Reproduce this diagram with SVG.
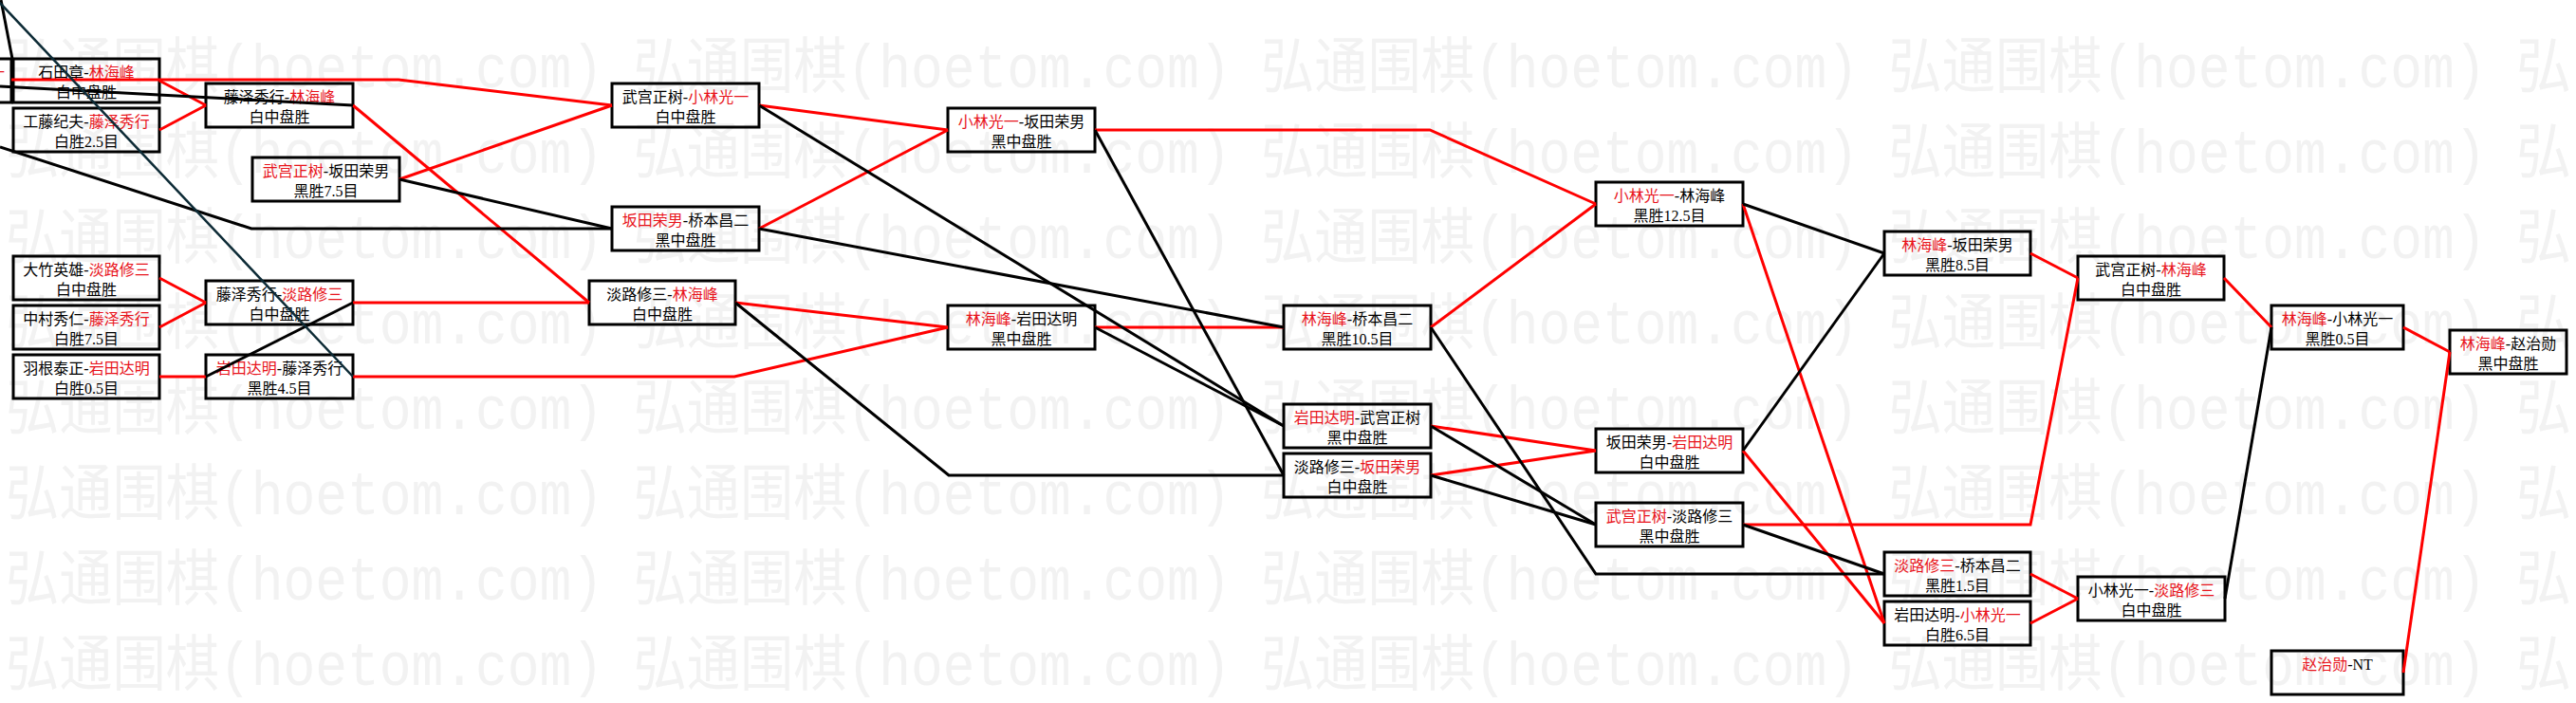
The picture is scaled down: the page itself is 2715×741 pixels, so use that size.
<svg xmlns="http://www.w3.org/2000/svg" width="2715" height="741" viewBox="0 0 2715 741">
<style>
.wm{font-family:"Liberation Mono","Noto Sans CJK SC",monospace;font-size:64px;fill:#f2f2f2}
.box{fill:none;stroke:#000;stroke-width:3}
.t{font-family:"Liberation Serif","Noto Sans CJK SC",serif;font-size:16px;fill:#000;text-anchor:middle}
.r{fill:#e8141c}
.cr{fill:none;stroke:#f00;stroke-width:3}
.cb{fill:none;stroke:#000;stroke-width:3}
.ct{fill:none;stroke:#0d2b36;stroke-width:2.5}
</style>
<rect width="2715" height="741" fill="#fff"/>
<g id="watermark">
<text class="wm" x="6" y="92" textLength="630" lengthAdjust="spacingAndGlyphs">弘通围棋(hoetom.com)</text><text class="wm" x="667.5" y="92" textLength="630" lengthAdjust="spacingAndGlyphs">弘通围棋(hoetom.com)</text><text class="wm" x="1329" y="92" textLength="630" lengthAdjust="spacingAndGlyphs">弘通围棋(hoetom.com)</text><text class="wm" x="1990.5" y="92" textLength="630" lengthAdjust="spacingAndGlyphs">弘通围棋(hoetom.com)</text><text class="wm" x="2652" y="92" textLength="58" lengthAdjust="spacingAndGlyphs">弘</text>
<text class="wm" x="6" y="182" textLength="630" lengthAdjust="spacingAndGlyphs">弘通围棋(hoetom.com)</text><text class="wm" x="667.5" y="182" textLength="630" lengthAdjust="spacingAndGlyphs">弘通围棋(hoetom.com)</text><text class="wm" x="1329" y="182" textLength="630" lengthAdjust="spacingAndGlyphs">弘通围棋(hoetom.com)</text><text class="wm" x="1990.5" y="182" textLength="630" lengthAdjust="spacingAndGlyphs">弘通围棋(hoetom.com)</text><text class="wm" x="2652" y="182" textLength="58" lengthAdjust="spacingAndGlyphs">弘</text>
<text class="wm" x="6" y="272" textLength="630" lengthAdjust="spacingAndGlyphs">弘通围棋(hoetom.com)</text><text class="wm" x="667.5" y="272" textLength="630" lengthAdjust="spacingAndGlyphs">弘通围棋(hoetom.com)</text><text class="wm" x="1329" y="272" textLength="630" lengthAdjust="spacingAndGlyphs">弘通围棋(hoetom.com)</text><text class="wm" x="1990.5" y="272" textLength="630" lengthAdjust="spacingAndGlyphs">弘通围棋(hoetom.com)</text><text class="wm" x="2652" y="272" textLength="58" lengthAdjust="spacingAndGlyphs">弘</text>
<text class="wm" x="6" y="362" textLength="630" lengthAdjust="spacingAndGlyphs">弘通围棋(hoetom.com)</text><text class="wm" x="667.5" y="362" textLength="630" lengthAdjust="spacingAndGlyphs">弘通围棋(hoetom.com)</text><text class="wm" x="1329" y="362" textLength="630" lengthAdjust="spacingAndGlyphs">弘通围棋(hoetom.com)</text><text class="wm" x="1990.5" y="362" textLength="630" lengthAdjust="spacingAndGlyphs">弘通围棋(hoetom.com)</text><text class="wm" x="2652" y="362" textLength="58" lengthAdjust="spacingAndGlyphs">弘</text>
<text class="wm" x="6" y="452" textLength="630" lengthAdjust="spacingAndGlyphs">弘通围棋(hoetom.com)</text><text class="wm" x="667.5" y="452" textLength="630" lengthAdjust="spacingAndGlyphs">弘通围棋(hoetom.com)</text><text class="wm" x="1329" y="452" textLength="630" lengthAdjust="spacingAndGlyphs">弘通围棋(hoetom.com)</text><text class="wm" x="1990.5" y="452" textLength="630" lengthAdjust="spacingAndGlyphs">弘通围棋(hoetom.com)</text><text class="wm" x="2652" y="452" textLength="58" lengthAdjust="spacingAndGlyphs">弘</text>
<text class="wm" x="6" y="542" textLength="630" lengthAdjust="spacingAndGlyphs">弘通围棋(hoetom.com)</text><text class="wm" x="667.5" y="542" textLength="630" lengthAdjust="spacingAndGlyphs">弘通围棋(hoetom.com)</text><text class="wm" x="1329" y="542" textLength="630" lengthAdjust="spacingAndGlyphs">弘通围棋(hoetom.com)</text><text class="wm" x="1990.5" y="542" textLength="630" lengthAdjust="spacingAndGlyphs">弘通围棋(hoetom.com)</text><text class="wm" x="2652" y="542" textLength="58" lengthAdjust="spacingAndGlyphs">弘</text>
<text class="wm" x="6" y="632" textLength="630" lengthAdjust="spacingAndGlyphs">弘通围棋(hoetom.com)</text><text class="wm" x="667.5" y="632" textLength="630" lengthAdjust="spacingAndGlyphs">弘通围棋(hoetom.com)</text><text class="wm" x="1329" y="632" textLength="630" lengthAdjust="spacingAndGlyphs">弘通围棋(hoetom.com)</text><text class="wm" x="1990.5" y="632" textLength="630" lengthAdjust="spacingAndGlyphs">弘通围棋(hoetom.com)</text><text class="wm" x="2652" y="632" textLength="58" lengthAdjust="spacingAndGlyphs">弘</text>
<text class="wm" x="6" y="722" textLength="630" lengthAdjust="spacingAndGlyphs">弘通围棋(hoetom.com)</text><text class="wm" x="667.5" y="722" textLength="630" lengthAdjust="spacingAndGlyphs">弘通围棋(hoetom.com)</text><text class="wm" x="1329" y="722" textLength="630" lengthAdjust="spacingAndGlyphs">弘通围棋(hoetom.com)</text><text class="wm" x="1990.5" y="722" textLength="630" lengthAdjust="spacingAndGlyphs">弘通围棋(hoetom.com)</text><text class="wm" x="2652" y="722" textLength="58" lengthAdjust="spacingAndGlyphs">弘</text>
</g>
<g id="nodes">
<g id="n0"><rect class="box" x="-142" y="62" width="154" height="46"/><text class="t r" x="5" y="82" style="text-anchor:end">一</text></g>
<g id="n1"><rect class="box" x="14" y="62" width="154" height="46"/><text class="t" x="91" y="82">石田章-<tspan class="r">林海峰</tspan></text><text class="t" x="91" y="103">白中盘胜</text></g>
<g id="n2"><rect class="box" x="14" y="114" width="154" height="46"/><text class="t" x="91" y="134">工藤纪夫-<tspan class="r">藤泽秀行</tspan></text><text class="t" x="91" y="155">白胜2.5目</text></g>
<g id="n3"><rect class="box" x="14" y="270" width="154" height="46"/><text class="t" x="91" y="290">大竹英雄-<tspan class="r">淡路修三</tspan></text><text class="t" x="91" y="311">白中盘胜</text></g>
<g id="n4"><rect class="box" x="14" y="322" width="154" height="46"/><text class="t" x="91" y="342">中村秀仁-<tspan class="r">藤泽秀行</tspan></text><text class="t" x="91" y="363">白胜7.5目</text></g>
<g id="n5"><rect class="box" x="14" y="374" width="154" height="46"/><text class="t" x="91" y="394">羽根泰正-<tspan class="r">岩田达明</tspan></text><text class="t" x="91" y="415">白胜0.5目</text></g>
<g id="n6"><rect class="box" x="217" y="88" width="155" height="46"/><text class="t" x="294.5" y="108">藤泽秀行-<tspan class="r">林海峰</tspan></text><text class="t" x="294.5" y="129">白中盘胜</text></g>
<g id="n7"><rect class="box" x="266" y="166" width="155" height="46"/><text class="t" x="343.5" y="186"><tspan class="r">武宫正树</tspan>-坂田荣男</text><text class="t" x="343.5" y="207">黑胜7.5目</text></g>
<g id="n8"><rect class="box" x="217" y="296" width="155" height="46"/><text class="t" x="294.5" y="316">藤泽秀行-<tspan class="r">淡路修三</tspan></text><text class="t" x="294.5" y="337">白中盘胜</text></g>
<g id="n9"><rect class="box" x="217" y="374" width="155" height="46"/><text class="t" x="294.5" y="394"><tspan class="r">岩田达明</tspan>-藤泽秀行</text><text class="t" x="294.5" y="415">黑胜4.5目</text></g>
<g id="n10"><rect class="box" x="645" y="88" width="155" height="46"/><text class="t" x="722.5" y="108">武宫正树-<tspan class="r">小林光一</tspan></text><text class="t" x="722.5" y="129">白中盘胜</text></g>
<g id="n11"><rect class="box" x="645" y="218" width="155" height="46"/><text class="t" x="722.5" y="238"><tspan class="r">坂田荣男</tspan>-桥本昌二</text><text class="t" x="722.5" y="259">黑中盘胜</text></g>
<g id="n12"><rect class="box" x="621" y="296" width="154" height="46"/><text class="t" x="698" y="316">淡路修三-<tspan class="r">林海峰</tspan></text><text class="t" x="698" y="337">白中盘胜</text></g>
<g id="n13"><rect class="box" x="999" y="114" width="155" height="46"/><text class="t" x="1076.5" y="134"><tspan class="r">小林光一</tspan>-坂田荣男</text><text class="t" x="1076.5" y="155">黑中盘胜</text></g>
<g id="n14"><rect class="box" x="999" y="322" width="155" height="46"/><text class="t" x="1076.5" y="342"><tspan class="r">林海峰</tspan>-岩田达明</text><text class="t" x="1076.5" y="363">黑中盘胜</text></g>
<g id="n15"><rect class="box" x="1353" y="322" width="155" height="46"/><text class="t" x="1430.5" y="342"><tspan class="r">林海峰</tspan>-桥本昌二</text><text class="t" x="1430.5" y="363">黑胜10.5目</text></g>
<g id="n16"><rect class="box" x="1353" y="426" width="155" height="46"/><text class="t" x="1430.5" y="446"><tspan class="r">岩田达明</tspan>-武宫正树</text><text class="t" x="1430.5" y="467">黑中盘胜</text></g>
<g id="n17"><rect class="box" x="1353" y="478" width="155" height="46"/><text class="t" x="1430.5" y="498">淡路修三-<tspan class="r">坂田荣男</tspan></text><text class="t" x="1430.5" y="519">白中盘胜</text></g>
<g id="n18"><rect class="box" x="1682" y="192" width="155" height="46"/><text class="t" x="1759.5" y="212"><tspan class="r">小林光一</tspan>-林海峰</text><text class="t" x="1759.5" y="233">黑胜12.5目</text></g>
<g id="n19"><rect class="box" x="1682" y="452" width="155" height="46"/><text class="t" x="1759.5" y="472">坂田荣男-<tspan class="r">岩田达明</tspan></text><text class="t" x="1759.5" y="493">白中盘胜</text></g>
<g id="n20"><rect class="box" x="1682" y="530" width="155" height="46"/><text class="t" x="1759.5" y="550"><tspan class="r">武宫正树</tspan>-淡路修三</text><text class="t" x="1759.5" y="571">黑中盘胜</text></g>
<g id="n21"><rect class="box" x="1986" y="244" width="154" height="46"/><text class="t" x="2063" y="264"><tspan class="r">林海峰</tspan>-坂田荣男</text><text class="t" x="2063" y="285">黑胜8.5目</text></g>
<g id="n22"><rect class="box" x="1986" y="582" width="154" height="46"/><text class="t" x="2063" y="602"><tspan class="r">淡路修三</tspan>-桥本昌二</text><text class="t" x="2063" y="623">黑胜1.5目</text></g>
<g id="n23"><rect class="box" x="1986" y="634" width="154" height="46"/><text class="t" x="2063" y="654">岩田达明-<tspan class="r">小林光一</tspan></text><text class="t" x="2063" y="675">白胜6.5目</text></g>
<g id="n24"><rect class="box" x="2190" y="270" width="154" height="46"/><text class="t" x="2267" y="290">武宫正树-<tspan class="r">林海峰</tspan></text><text class="t" x="2267" y="311">白中盘胜</text></g>
<g id="n25"><rect class="box" x="2190" y="608" width="155" height="46"/><text class="t" x="2267.5" y="628">小林光一-<tspan class="r">淡路修三</tspan></text><text class="t" x="2267.5" y="649">白中盘胜</text></g>
<g id="n26"><rect class="box" x="2394" y="322" width="139" height="46"/><text class="t" x="2463.5" y="342"><tspan class="r">林海峰</tspan>-小林光一</text><text class="t" x="2463.5" y="363">黑胜0.5目</text></g>
<g id="n27"><rect class="box" x="2394" y="686" width="139" height="46"/><text class="t" x="2463.5" y="706"><tspan class="r">赵治勋</tspan>-NT</text></g>
<g id="n28"><rect class="box" x="2582" y="348" width="123" height="46"/><text class="t" x="2643.5" y="368"><tspan class="r">林海峰</tspan>-赵治勋</text><text class="t" x="2643.5" y="389">黑中盘胜</text></g>
</g>
<g id="connectors">
<polyline class="cr" points="12,84 420,84 645,111"/>
<line class="cr" x1="168" y1="85" x2="217" y2="111"/>
<line class="cr" x1="168" y1="137" x2="217" y2="111"/>
<line class="cr" x1="372" y1="111" x2="621" y2="319"/>
<line class="cr" x1="421" y1="189" x2="645" y2="111"/>
<line class="cr" x1="168" y1="293" x2="217" y2="319"/>
<line class="cr" x1="168" y1="345" x2="217" y2="319"/>
<line class="cr" x1="372" y1="319" x2="621" y2="319"/>
<line class="cr" x1="168" y1="397" x2="217" y2="397"/>
<polyline class="cr" points="372,397 774,397 999,345"/>
<line class="cr" x1="800" y1="111" x2="999" y2="137"/>
<line class="cr" x1="800" y1="241" x2="999" y2="137"/>
<line class="cr" x1="775" y1="319" x2="999" y2="345"/>
<polyline class="cr" points="1154,137 1507,137 1682,215"/>
<line class="cr" x1="1154" y1="345" x2="1353" y2="345"/>
<line class="cr" x1="1508" y1="345" x2="1682" y2="215"/>
<line class="cr" x1="1508" y1="449" x2="1682" y2="475"/>
<line class="cr" x1="1508" y1="501" x2="1682" y2="475"/>
<line class="cr" x1="1837" y1="215" x2="1986" y2="657"/>
<line class="cr" x1="1837" y1="475" x2="1986" y2="657"/>
<polyline class="cr" points="1837,553 2140,553 2190,293"/>
<line class="cr" x1="2140" y1="267" x2="2190" y2="293"/>
<line class="cr" x1="2140" y1="605" x2="2190" y2="631"/>
<line class="cr" x1="2140" y1="657" x2="2190" y2="631"/>
<line class="cr" x1="2344" y1="293" x2="2394" y2="345"/>
<line class="cr" x1="2533" y1="345" x2="2582" y2="371"/>
<line class="cr" x1="2533" y1="709" x2="2582" y2="371"/>
<line class="cb" x1="1" y1="0" x2="13" y2="62"/>
<line class="cb" x1="0" y1="91" x2="372" y2="111"/>
<polyline class="cb" points="0,155 265,241 645,241"/>
<line class="cb" x1="421" y1="189" x2="645" y2="241"/>
<line class="cb" x1="217" y1="397" x2="372" y2="319"/>
<line class="cb" x1="800" y1="111" x2="1353" y2="449"/>
<line class="cb" x1="800" y1="241" x2="1353" y2="345"/>
<polyline class="cb" points="775,319 1000,501 1353,501"/>
<line class="cb" x1="1154" y1="137" x2="1353" y2="501"/>
<line class="cb" x1="1154" y1="345" x2="1353" y2="449"/>
<polyline class="cb" points="1508,345 1682,605 1986,605"/>
<line class="cb" x1="1508" y1="449" x2="1682" y2="553"/>
<line class="cb" x1="1508" y1="501" x2="1682" y2="553"/>
<line class="cb" x1="1837" y1="215" x2="1986" y2="267"/>
<line class="cb" x1="1837" y1="475" x2="1986" y2="267"/>
<line class="cb" x1="1837" y1="553" x2="1986" y2="605"/>
<line class="cb" x1="2345" y1="631" x2="2394" y2="345"/>
<line class="ct" x1="-3" y1="0" x2="372" y2="397"/>
</g>
</svg>
